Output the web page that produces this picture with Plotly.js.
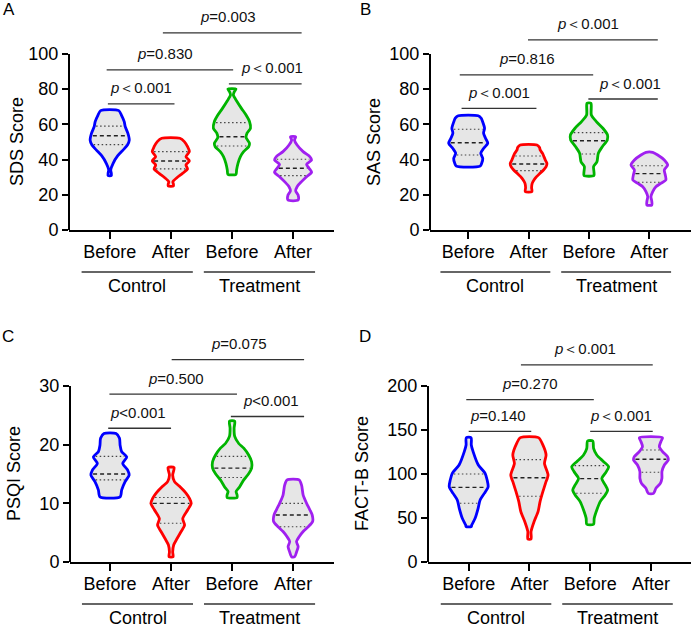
<!DOCTYPE html>
<html><head><meta charset="utf-8">
<script src="https://cdn.plot.ly/plotly-3.0.1.min.js"></script>
<style>html,body{margin:0;padding:0;background:#fff}#chart{width:696px;height:628px}</style>
</head><body><div id="chart"></div>
<script>
// ---------- categories / labels ----------
const tickLabels = ['Before', 'After', 'Before', 'After'];
const groupNames = ['Control', 'Treatment'];
const panelLetters = ['A', 'B', 'C', 'D'];
const yTitles = ['SDS Score', 'SAS Score', 'PSQI Score', 'FACT-B Score'];
const yTicksA = [0, 20, 40, 60, 80, 100];
const yTicksB = [0, 20, 40, 60, 80, 100];
const yTicksC = [0, 10, 20, 30];
const yTicksD = [0, 50, 100, 150, 200];

// ---------- violin profiles (score levels, top -> bottom; relative density) ----------
// Panel A: SDS
const sdsLevels = [
  [67.8, 65.3, 61.6, 58.7, 55.0, 51.1, 48.3, 45.5, 42.2, 37.9, 34.1, 32.2, 30.9],
  [52.1, 50.2, 47.3, 44.5, 41.7, 39.2, 36.9, 34.7, 32.2, 29.7, 27.4, 26.1, 25.0],
  [80.1, 78.8, 76.7, 73.0, 69.1, 65.3, 61.6, 57.8, 55.0, 52.5, 49.3, 47.3, 44.5, 41.7, 37.9, 34.1, 31.6],
  [53.0, 51.1, 48.3, 44.5, 41.7, 39.8, 37.3, 35.0, 32.8, 30.3, 27.5, 24.6, 22.2, 19.9, 17.0]
];
const sdsDensity = [
  [0.45, 0.58, 0.72, 0.77, 0.90, 0.97, 0.88, 0.67, 0.40, 0.17, 0.05, 0.08, 0.08],
  [0.45, 0.67, 0.83, 0.92, 0.75, 0.92, 0.75, 0.83, 0.58, 0.30, 0.10, 0.13, 0.13],
  [0.20, 0.13, 0.07, 0.25, 0.47, 0.70, 0.87, 0.92, 0.75, 0.70, 0.87, 0.83, 0.58, 0.42, 0.30, 0.23, 0.20],
  [0.13, 0.07, 0.20, 0.50, 0.83, 0.92, 0.67, 0.80, 0.92, 0.67, 0.42, 0.20, 0.13, 0.25, 0.25]
];
const sdsQuartiles = [[59.0, 53.5, 48.5], [44.5, 39.2, 34.7], [61.0, 53.0, 47.7], [40.2, 35.1, 30.9]];

// Panel B: SAS
const sasLevels = [
  [64.9, 63.5, 61.6, 57.8, 55.0, 52.1, 49.3, 46.4, 43.6, 40.7, 38.0, 36.3],
  [48.3, 46.9, 45.5, 43.5, 41.7, 39.5, 37.9, 36.0, 34.1, 32.0, 30.3, 28.4, 26.5, 24.0, 21.8],
  [72.0, 65.3, 61.6, 57.8, 54.0, 51.1, 47.3, 43.6, 38.8, 36.0, 33.1, 30.9],
  [44.1, 42.6, 39.8, 36.9, 34.1, 31.3, 28.4, 26.5, 24.6, 21.8, 18.9, 16.5, 14.2]
];
const sasDensity = [
  [0.50, 0.65, 0.72, 0.82, 0.77, 0.87, 0.98, 0.78, 0.63, 0.73, 0.68, 0.60],
  [0.42, 0.55, 0.58, 0.70, 0.77, 0.85, 0.92, 0.88, 0.75, 0.55, 0.40, 0.27, 0.18, 0.15, 0.17],
  [0.10, 0.12, 0.37, 0.70, 0.93, 0.92, 0.67, 0.47, 0.40, 0.23, 0.25, 0.25],
  [0.17, 0.42, 0.75, 0.92, 0.75, 0.80, 0.83, 0.58, 0.33, 0.17, 0.08, 0.12, 0.13]
];
const sasQuartiles = [[57.2, 49.6, 42.6], [42.0, 37.5, 33.7], [55.3, 50.7, 43.2], [36.5, 32.0, 27.1]];

// Panel C: PSQI
const psqiLevels = [
  [21.9, 21.1, 19.9, 18.8, 17.9, 16.8, 15.7, 14.8, 13.7, 12.3, 11.1],
  [16.1, 14.8, 13.7, 12.9, 11.7, 10.8, 10.0, 8.9, 7.4, 6.3, 5.2, 4.0, 2.9, 1.7, 0.9],
  [24.0, 22.8, 21.4, 20.2, 19.4, 18.2, 17.1, 16.0, 15.1, 14.0, 12.8, 12.0, 11.4, 11.0],
  [14.0, 13.1, 11.4, 10.0, 8.9, 8.0, 6.9, 6.0, 5.2, 4.3, 3.5, 2.6, 1.7, 0.9]
];
const psqiDensity = [
  [0.30, 0.47, 0.50, 0.58, 0.83, 0.63, 0.87, 0.95, 0.75, 0.58, 0.50],
  [0.15, 0.08, 0.17, 0.42, 0.75, 0.92, 1.00, 0.83, 0.58, 0.67, 0.50, 0.30, 0.13, 0.08, 0.10],
  [0.13, 0.10, 0.13, 0.33, 0.58, 0.83, 0.97, 0.97, 0.83, 0.58, 0.37, 0.20, 0.25, 0.25],
  [0.30, 0.42, 0.50, 0.67, 0.83, 0.95, 0.97, 0.75, 0.50, 0.30, 0.17, 0.25, 0.17, 0.08]
];
const psqiQuartiles = [[18.0, 15.0, 14.0], [11.0, 10.0, 6.6], [18.0, 16.0, 14.4], [10.0, 8.0, 6.0]];

// Panel D: FACT-B
const factLevels = [
  [141.3, 133.0, 125.4, 110.2, 100.8, 93.2, 85.6, 78.0, 70.5, 61.0, 49.6, 42.0, 40.2],
  [141.3, 133.0, 121.6, 112.1, 98.9, 89.4, 79.9, 68.6, 57.2, 45.8, 34.5, 26.1],
  [137.5, 129.2, 121.6, 114.0, 108.3, 100.8, 95.1, 87.5, 81.8, 76.1, 68.6, 59.1, 49.6, 42.8],
  [141.3, 137.0, 131.1, 125.4, 119.7, 116.0, 110.2, 102.7, 95.1, 89.4, 83.7, 78.0]
];
const factDensity = [
  [0.12, 0.13, 0.22, 0.48, 0.82, 0.92, 0.97, 0.78, 0.57, 0.47, 0.32, 0.15, 0.13],
  [0.45, 0.67, 0.83, 0.75, 0.93, 0.80, 0.67, 0.53, 0.43, 0.23, 0.08, 0.08],
  [0.13, 0.17, 0.33, 0.67, 0.92, 0.75, 0.58, 0.75, 0.87, 0.75, 0.50, 0.33, 0.20, 0.17],
  [0.58, 0.50, 0.42, 0.58, 0.83, 0.87, 0.67, 0.55, 0.55, 0.47, 0.25, 0.13]
];
const factQuartiles = [[100.0, 84.8, 66.7], [116.3, 95.8, 74.7], [109.5, 94.7, 78.1], [127.3, 116.7, 101.9]];

// ---------- significance brackets ----------
const sdsBrFrom = [-0.03, -0.05, 1.95, 0.87], sdsBrTo = [1.06, 2.02, 3.14, 3.14];
const sdsBrLevel = [71.6, 90.9, 83.0, 112.0], sdsBrTextX = [0.51, 0.91, 2.65, 1.94];
const sdsBrText = ['＜0.001', '=0.830', '＜0.001', '=0.003'];

const sasBrFrom = [-0.11, -0.14, 1.99, 0.99], sasBrTo = [1.13, 2.07, 3.14, 3.14];
const sasBrLevel = [69.1, 88.1, 74.4, 108.0], sasBrTextX = [0.51, 0.98, 2.68, 1.98];
const sasBrText = ['＜0.001', '=0.816', '＜0.001', '＜0.001'];

const psqiBrFrom = [-0.03, -0.01, 1.98, 1.01], psqiBrTo = [1.00, 2.08, 3.18, 3.18];
const psqiBrLevel = [22.8, 28.6, 24.8, 34.5], psqiBrTextX = [0.46, 1.08, 2.64, 2.12];
const psqiBrText = ['<0.001', '=0.500', '<0.001', '=0.075'];

const factBrFrom = [0.00, -0.04, 2.00, 0.86], factBrTo = [1.03, 2.06, 3.03, 3.03];
const factBrLevel = [148.5, 184.5, 148.5, 223.9], factBrTextX = [0.49, 1.01, 2.50, 1.92];
const factBrText = ['=0.140', '=0.270', '＜0.001', '＜0.001'];

// ---------- styling / layout ----------
const COLORS = ['#0000FF', '#FF0000', '#00B400', '#A020F0'];
const FILL = '#E6E6E6';
const MAXHW = 0.33;
const FONT = 'Arial, "Liberation Sans", Helvetica, sans-serif';

const panels = [
  {lv: sdsLevels, dn: sdsDensity, q: sdsQuartiles, bf: sdsBrFrom, bt: sdsBrTo, bl: sdsBrLevel, bx: sdsBrTextX, bs: sdsBrText,
   ticks: yTicksA, xr: [-0.666, 3.67], yr: [0, 126.1], xd: [69/696, 334/696], yd: [1 - 230/628, 1 - 8/628], titleY: 50, titleShift: -52},
  {lv: sasLevels, dn: sasDensity, q: sasQuartiles, bf: sasBrFrom, bt: sasBrTo, bl: sasBrLevel, bx: sasBrTextX, bs: sasBrText,
   ticks: yTicksB, xr: [-0.633, 3.69], yr: [0, 126.1], xd: [430/696, 691/696], yd: [1 - 230/628, 1 - 8/628], titleY: 50, titleShift: -56},
  {lv: psqiLevels, dn: psqiDensity, q: psqiQuartiles, bf: psqiBrFrom, bt: psqiBrTo, bl: psqiBrLevel, bx: psqiBrTextX, bs: psqiBrText,
   ticks: yTicksC, xr: [-0.656, 3.67], yr: [0, 40.4], xd: [70/696, 334/696], yd: [1 - 562/628, 1 - 325/628], titleY: 15, titleShift: -56},
  {lv: factLevels, dn: factDensity, q: factQuartiles, bf: factBrFrom, bt: factBrTo, bl: factBrLevel, bx: factBrTextX, bs: factBrText,
   ticks: yTicksD, xr: [-0.67, 3.66], yr: [0, 269.3], xd: [428/696, 691/696], yd: [1 - 562/628, 1 - 325/628], titleY: 100, titleShift: -66}
];

function densAt(levels, dens, q) {
  for (let i = 0; i < levels.length - 1; i++) {
    if (levels[i] >= q && q >= levels[i + 1]) {
      const t = (levels[i] - q) / (levels[i] - levels[i + 1]);
      return dens[i] + t * (dens[i + 1] - dens[i]);
    }
  }
  return 0;
}

const traces = [];
const shapes = [];
const annotations = [];
const layout = {
  width: 696, height: 628, margin: {l: 0, r: 0, t: 0, b: 0},
  paper_bgcolor: '#fff', plot_bgcolor: 'rgba(0,0,0,0)', showlegend: false,
  font: {family: FONT, color: '#000', size: 18}
};

panels.forEach((p, k) => {
  const sfx = k === 0 ? '' : String(k + 1);
  const xa = 'x' + sfx, ya = 'y' + sfx;
  // violins
  p.lv.forEach((levels, g) => {
    const dens = p.dn[g];
    const xs = [], ys = [];
    levels.forEach((v, i) => { xs.push(g + dens[i] * MAXHW); ys.push(v); });
    for (let i = levels.length - 1; i >= 0; i--) { xs.push(g - dens[i] * MAXHW); ys.push(levels[i]); }
    xs.push(xs[0]); ys.push(ys[0]);
    traces.push({type: 'scatter', mode: 'lines', x: xs, y: ys, xaxis: xa, yaxis: ya,
      fill: 'toself', fillcolor: FILL, line: {color: COLORS[g], width: 2.8, shape: 'spline', smoothing: 0.7},
      hoverinfo: 'skip'});
  });
  // quartile lines
  const medX = [], medY = [], qX = [], qY = [];
  p.q.forEach((qs, g) => {
    qs.forEach((qv, j) => {
      const hw = Math.max(densAt(p.lv[g], p.dn[g], qv) * MAXHW - 0.03, 0);
      const tx = j === 1 ? medX : qX, ty = j === 1 ? medY : qY;
      tx.push(g - hw, g + hw, null); ty.push(qv, qv, null);
    });
  });
  traces.push({type: 'scatter', mode: 'lines', x: medX, y: medY, xaxis: xa, yaxis: ya,
    line: {color: '#222', width: 1.4, dash: '4px,3px'}, hoverinfo: 'skip'});
  traces.push({type: 'scatter', mode: 'lines', x: qX, y: qY, xaxis: xa, yaxis: ya,
    line: {color: '#444', width: 1.1, dash: '1.5px,2.5px'}, hoverinfo: 'skip'});
  // brackets
  const bX = [], bY = [];
  p.bf.forEach((x0, i) => { bX.push(x0, p.bt[i], null); bY.push(p.bl[i], p.bl[i], null); });
  traces.push({type: 'scatter', mode: 'lines', x: bX, y: bY, xaxis: xa, yaxis: ya,
    line: {color: '#333', width: 1.3}, hoverinfo: 'skip'});
  p.bs.forEach((s, i) => {
    annotations.push({xref: xa, yref: ya, x: p.bx[i], y: p.bl[i], yshift: 16, xanchor: 'center', yanchor: 'middle',
      text: '<i>p</i>' + s, showarrow: false, font: {size: 15, family: FONT, color: '#111'}});
  });
  // axes
  layout['xaxis' + sfx] = {domain: p.xd, range: p.xr, anchor: ya, tickmode: 'array', tickvals: [0, 1, 2, 3], ticktext: tickLabels,
    showgrid: false, zeroline: false, showline: true, linecolor: '#000', linewidth: 2,
    ticks: 'outside', ticklen: 7, tickwidth: 2, tickcolor: '#000', ticklabelstandoff: -3,
    tickfont: {size: 18, family: FONT, color: '#000'}, fixedrange: true};
  layout['yaxis' + sfx] = {domain: p.yd, range: p.yr, anchor: xa, tickmode: 'array', tickvals: p.ticks,
    showgrid: false, zeroline: false, showline: false,
    ticks: 'outside', ticklen: 6, tickwidth: 2, tickcolor: '#000', tickfont: {size: 18, family: FONT, color: '#000'}, fixedrange: true};
  // y axis line from 0 to top tick
  shapes.push({type: 'line', xref: xa + ' domain', yref: ya, x0: 0, x1: 0, y0: 0, y1: p.ticks[p.ticks.length - 1],
    line: {color: '#000', width: 2}});
  // group lines and names
  [[-0.46, 1.36], [1.54, 3.36]].forEach((seg, gi) => {
    shapes.push({type: 'line', xref: xa, yref: ya + ' domain', ysizemode: 'pixel', yanchor: 0, x0: seg[0], x1: seg[1], y0: -42, y1: -42,
      line: {color: '#333', width: 1.3}});
    annotations.push({xref: xa, yref: ya + ' domain', x: (seg[0] + seg[1]) / 2, y: 0, yshift: -56, xanchor: 'center', yanchor: 'middle',
      text: groupNames[gi], showarrow: false, font: {size: 18, family: FONT, color: '#000'}});
  });
  // y titles
  annotations.push({xref: xa + ' domain', yref: ya, x: 0, y: p.titleY, xshift: p.titleShift, xanchor: 'center', yanchor: 'middle',
    textangle: -90, text: yTitles[k], showarrow: false, font: {size: 18, family: FONT, color: '#000'}});
});

// panel letters
[[9, 10], [365, 10], [8, 336], [365, 336]].forEach((pt, k) => {
  annotations.push({xref: 'paper', yref: 'paper', x: pt[0] / 696, y: 1 - pt[1] / 628, xanchor: 'center', yanchor: 'middle',
    text: panelLetters[k], showarrow: false, font: {size: 17, family: FONT, color: '#000'}});
});

layout.shapes = shapes;
layout.annotations = annotations;
Plotly.newPlot('chart', traces, layout, {displayModeBar: false, staticPlot: true});
</script>
</body></html>
